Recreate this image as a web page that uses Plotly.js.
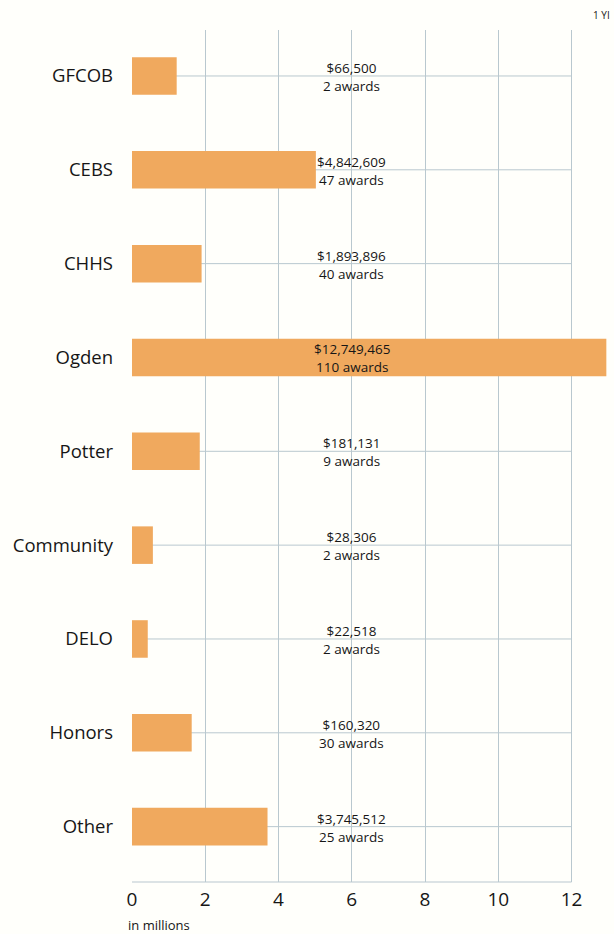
<!DOCTYPE html>
<html>
<head>
<meta charset="utf-8">
<script src="https://cdn.plot.ly/plotly-3.0.1.min.js"></script>
<style>html,body{margin:0;padding:0;background:#fffffb;}#chart{width:614px;height:934px;}</style>
</head>
<body>
<div id="chart"></div>
<script>
// Data
var categories = ["GFCOB", "CEBS", "CHHS", "Ogden", "Potter", "Community", "DELO", "Honors", "Other"];
var barMillions = [1.22, 5.02, 1.9, 12.95, 1.85, 0.57, 0.43, 1.63, 3.7];
var dollarLabels = ["$66,500", "$4,842,609", "$1,893,896", "$12,749,465", "$181,131", "$28,306", "$22,518", "$160,320", "$3,745,512"];
var awardLabels = ["2 awards", "47 awards", "40 awards", "110 awards", "9 awards", "2 awards", "2 awards", "30 awards", "25 awards"];
var tickValues = [0, 2, 4, 6, 8, 10, 12];

var FONT = '"Open Sans", "Noto Sans", sans-serif';
var GRID = '#b9c8cf';
var INK = '#161616';

var trace = {
  type: 'bar',
  orientation: 'h',
  x: barMillions,
  y: categories,
  width: 0.4,
  marker: {color: '#f0a95e', line: {width: 0}},
  hoverinfo: 'skip'
};

var shapes = categories.map(function (c) {
  return {type: 'line', xref: 'x', yref: 'y', x0: 0, x1: 12, y0: c, y1: c,
          line: {color: GRID, width: 1}, layer: 'below'};
});
shapes.push({type: 'line', xref: 'x', yref: 'paper', x0: 0, x1: 12, y0: 0, y1: 0,
             line: {color: GRID, width: 1.2}, layer: 'below'});

var annotations = [];
categories.forEach(function (c, i) {
  annotations.push({x: 6, y: c, xref: 'x', yref: 'y', showarrow: false,
    text: dollarLabels[i] + '<br>' + awardLabels[i], align: 'center',
    yanchor: 'middle', yshift: -1, borderpad: 0,
    font: {family: FONT, size: 13.5, color: INK}});
});
annotations.push({x: 0, y: 0, xref: 'x', yref: 'paper', xanchor: 'left', yanchor: 'middle',
  xshift: -6, yshift: -43, showarrow: false, text: 'in millions', font: {family: FONT, size: 13, color: INK}});
annotations.push({x: 1, y: 1, xref: 'paper', yref: 'paper', xanchor: 'right', yanchor: 'top',
  xshift: 2, yshift: 24, showarrow: false, text: '1 YI', font: {family: FONT, size: 10, color: INK}});

var layout = {
  width: 614, height: 934,
  margin: {l: 132, r: 4, t: 30, b: 52},
  paper_bgcolor: '#fffffb',
  plot_bgcolor: 'rgba(0,0,0,0)',
  showlegend: false,
  xaxis: {
    range: [0, 13.05],
    tickvals: tickValues,
    ticktext: tickValues.map(String),
    showgrid: true, gridcolor: GRID, gridwidth: 1,
    zeroline: false, showline: false,
    ticks: '', ticklabelstandoff: 4,
    tickfont: {family: FONT, size: 19, color: INK},
    fixedrange: true
  },
  yaxis: {
    type: 'category',
    range: [8.59, -0.49],
    showgrid: false, zeroline: false, showline: false,
    ticks: '', ticklabelstandoff: 18,
    tickfont: {family: FONT, size: 18.5, color: INK},
    fixedrange: true
  },
  shapes: shapes,
  annotations: annotations,
  bargap: 0.6
};

Plotly.newPlot('chart', [trace], layout, {displayModeBar: false, staticPlot: true});
</script>
</body>
</html>
